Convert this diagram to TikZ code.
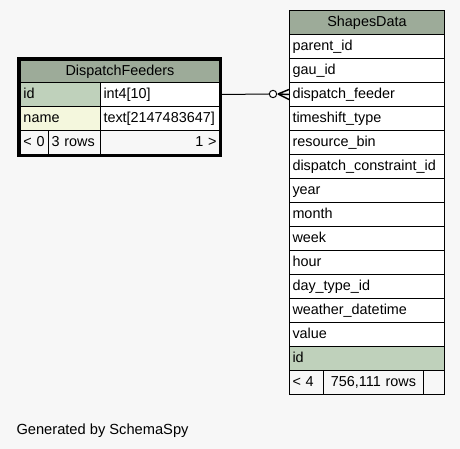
\documentclass[tikz,border=0pt]{standalone}
\usepackage{fontspec}
\setmainfont{Liberation Sans}
\usetikzlibrary{positioning}
\definecolor{bgcol}{RGB}{247,247,247}
\definecolor{headcol}{RGB}{157,171,153}
\definecolor{keycol}{RGB}{191,209,187}
\definecolor{namecol}{RGB}{244,247,221}

\begin{document}
\begin{tikzpicture}[x=0.75pt, y=-0.75pt, line width=0.75pt,
    cell/.style={draw, anchor=north west, minimum height=18pt, inner xsep=2.25pt, inner ysep=0pt,
      font=\fontsize{10.8}{12}\selectfont, text height=8pt, text depth=2.5pt, align=left},
    head/.style={cell, fill=headcol, align=center},
    field/.style={cell, fill=white}]
    % Canvas
    \fill [bgcol] (0, 0) rectangle (460, 449);
    \useasboundingbox (0, 0) rectangle (460, 449);
    % DispatchFeeders table
    \node [head, text width=144.75pt, minimum height=16.5pt] (dfhead) at (20, 60) {DispatchFeeders};
    \node [cell, fill=keycol, text width=55.5pt] (dfid) at (20, 82) {id};
    \node [field, text width=84.75pt] (dfidtype) at (100, 82) {int4[10]};
    \node [cell, fill=namecol, text width=55.5pt] (dfname) at (20, 106) {name};
    \node [field, text width=84.75pt] (dfnametype) at (100, 106) {text[2147483647]};
    \node [cell, fill=bgcol, text width=16.5pt] (dfparents) at (20, 130) {< 0};
    \node [cell, fill=bgcol, text width=34.5pt] (dfrows) at (48, 130) {3 rows};
    \node [cell, fill=bgcol, text width=84.75pt, align=right] (dfchildren) at (100, 130) {1 >};
    \draw [line width=2.25pt] (18.5, 58.5) rectangle (220.5, 155.5);
    % ShapesData table
    \node [head, text width=111.75pt] (sdhead) at (289, 10) {ShapesData};
    \foreach \fld [count=\i from 0] in {parent\_id, gau\_id, dispatch\_feeder, timeshift\_type,
        resource\_bin, dispatch\_constraint\_id, year, month, week, hour, day\_type\_id,
        weather\_datetime, value}
      \node [field, text width=111.75pt] (sdrow\i) at (289, 34+24*\i) {\fld};
    \node [cell, fill=keycol, text width=111.75pt] (sdid) at (289, 346) {id};
    \node [cell, fill=bgcol, text width=21pt] (sdparents) at (289, 370) {< 4};
    \node [cell, fill=bgcol, text width=70.5pt, align=center] (sdrows) at (323, 370) {756,111 rows};
    \node [cell, fill=bgcol, text width=11.25pt] (sdchildren) at (423, 370) {};
    % Relationship
    \node [circle, draw, fill=white, inner sep=0pt, minimum size=5.5pt] (ring) at (273, 94) {};
    \coordinate (foot) at (278, 94);
    \draw (dfidtype.east -| 222, 0) -- (ring.west);
    \draw [line width=1.1pt] (foot) -- (sdrow2.west);
    \draw [line width=1.1pt] (foot) -- ([yshift=3.75pt] sdrow2.west);
    \draw [line width=1.1pt] (foot) -- ([yshift=-3.75pt] sdrow2.west);
    % Footer
    \node [anchor=base west, inner sep=0pt, font=\fontsize{11}{13}\selectfont] (credit) at (16, 434) {Generated by SchemaSpy};
\end{tikzpicture}
\end{document}
